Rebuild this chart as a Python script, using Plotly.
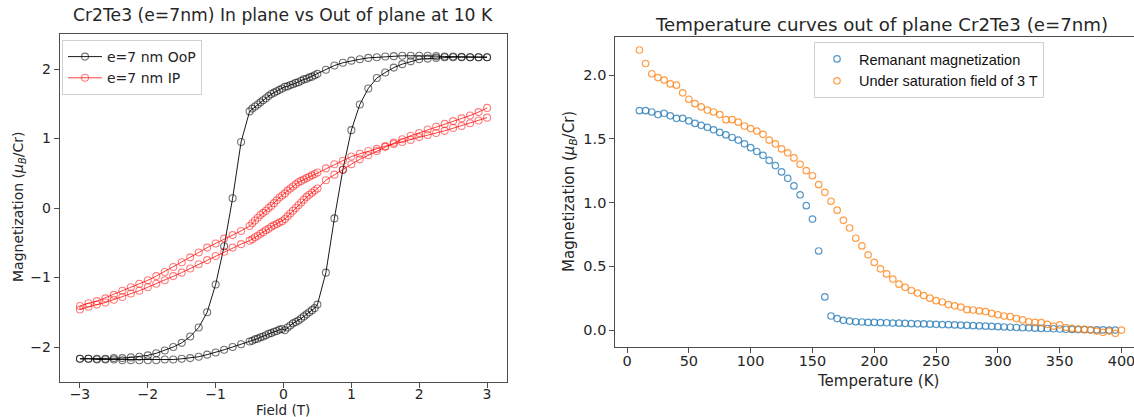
import plotly.graph_objects as go

# ---------------- Left panel: hysteresis loops at 10 K ----------------
field_down = [3.0, 2.875, 2.75, 2.625, 2.5, 2.375, 2.25, 2.125, 2.0, 1.875, 1.75, 1.625, 1.5, 1.375,
              1.25, 1.125, 1.0, 0.875, 0.75, 0.625, 0.5,
              0.46, 0.42, 0.38, 0.34, 0.3, 0.26, 0.22, 0.18, 0.14, 0.1, 0.06, 0.02,
              -0.02, -0.06, -0.1, -0.14, -0.18, -0.22, -0.26, -0.3, -0.34, -0.38, -0.42, -0.46,
              -0.5, -0.625, -0.75, -0.875, -1.0, -1.125, -1.25, -1.375, -1.5, -1.625, -1.75,
              -1.875, -2.0, -2.125, -2.25, -2.375, -2.5, -2.625, -2.75, -2.875, -3.0]
field_up = [-3.0, -2.875, -2.75, -2.625, -2.5, -2.375, -2.25, -2.125, -2.0, -1.875, -1.75, -1.625,
            -1.5, -1.375, -1.25, -1.125, -1.0, -0.875, -0.75, -0.625, -0.5,
            -0.46, -0.42, -0.38, -0.34, -0.3, -0.26, -0.22, -0.18, -0.14, -0.1, -0.06, -0.02,
            0.02, 0.06, 0.1, 0.14, 0.18, 0.22, 0.26, 0.3, 0.34, 0.38, 0.42, 0.46,
            0.5, 0.625, 0.75, 0.875, 1.0, 1.125, 1.25, 1.375, 1.5, 1.625, 1.75, 1.875, 2.0,
            2.125, 2.25, 2.375, 2.5, 2.625, 2.75, 2.875, 3.0]

m_oop_down = [2.17, 2.17, 2.17, 2.175, 2.18, 2.18, 2.185, 2.19, 2.19, 2.19, 2.19, 2.185, 2.18, 2.17,
              2.16, 2.14, 2.12, 2.09, 2.05, 1.99, 1.93,
              1.91, 1.89, 1.88, 1.86, 1.85, 1.83, 1.81, 1.80, 1.78, 1.77, 1.75, 1.745,
              1.72, 1.70, 1.68, 1.66, 1.64, 1.61, 1.58, 1.55, 1.52, 1.49, 1.46, 1.43,
              1.39, 0.95, 0.14, -0.55, -1.10, -1.50, -1.72, -1.85, -1.94, -2.00, -2.05,
              -2.09, -2.12, -2.14, -2.15, -2.16, -2.16, -2.17, -2.17, -2.17, -2.17]
m_oop_up = [-2.17, -2.17, -2.18, -2.18, -2.18, -2.19, -2.19, -2.19, -2.19, -2.19, -2.18, -2.18,
            -2.17, -2.16, -2.14, -2.11, -2.08, -2.04, -2.00, -1.96, -1.92,
            -1.91, -1.89, -1.88, -1.86, -1.85, -1.83, -1.81, -1.80, -1.78, -1.77, -1.75, -1.74,
            -1.76, -1.72, -1.69, -1.66, -1.64, -1.62, -1.59, -1.56, -1.53, -1.50, -1.47, -1.44,
            -1.39, -0.93, -0.15, 0.55, 1.12, 1.49, 1.72, 1.87, 1.95, 2.02, 2.07, 2.11, 2.14,
            2.15, 2.16, 2.17, 2.17, 2.17, 2.17, 2.17, 2.17]

m_ip_down = [1.30, 1.26, 1.22, 1.18, 1.15, 1.11, 1.08, 1.05, 1.02, 0.98, 0.95, 0.92, 0.89, 0.85,
             0.82, 0.78, 0.74, 0.68, 0.63, 0.57, 0.51,
             0.49, 0.47, 0.45, 0.43, 0.41, 0.39, 0.37, 0.34, 0.31, 0.28, 0.25, 0.21,
             0.18, 0.15, 0.11, 0.07, 0.03, 0.00, -0.04, -0.07, -0.10, -0.14, -0.18, -0.22,
             -0.26, -0.33, -0.39, -0.44, -0.51, -0.57, -0.64, -0.71, -0.78, -0.85, -0.92,
             -0.98, -1.04, -1.09, -1.14, -1.19, -1.25, -1.30, -1.34, -1.37, -1.41]
m_ip_up = [-1.46, -1.42, -1.39, -1.36, -1.32, -1.28, -1.23, -1.19, -1.14, -1.09, -1.04, -0.98,
           -0.93, -0.87, -0.81, -0.75, -0.69, -0.63, -0.57, -0.52, -0.47,
           -0.45, -0.42, -0.40, -0.37, -0.35, -0.32, -0.30, -0.27, -0.25, -0.23, -0.21, -0.19,
           -0.16, -0.12, -0.08, -0.04, 0.00, 0.04, 0.08, 0.12, 0.16, 0.19, 0.22, 0.25,
           0.28, 0.40, 0.48, 0.55, 0.63, 0.70, 0.76, 0.82, 0.88, 0.94, 0.99, 1.04, 1.08,
           1.13, 1.17, 1.21, 1.25, 1.29, 1.33, 1.38, 1.44]

# ---------------- Right panel: temperature curves ----------------
temp_rem = [10, 15, 20, 25, 30, 35, 40, 45, 50, 55, 60, 65, 70, 75, 80, 85, 90, 95, 100,
            105, 110, 115, 120, 125, 130, 135, 140, 145, 150, 155, 160, 165, 170, 175, 180,
            185, 190, 195, 200, 205, 210, 215, 220, 225, 230, 235, 240, 245, 250, 255, 260,
            265, 270, 275, 280, 285, 290, 295, 300, 305, 310, 315, 320, 325, 330, 335, 340,
            345, 350, 355, 360, 365, 370, 375, 380, 385, 390, 395]
m_rem = [1.72, 1.72, 1.71, 1.69, 1.70, 1.68, 1.66, 1.66, 1.64, 1.62, 1.605, 1.59, 1.57, 1.55,
         1.53, 1.51, 1.49, 1.46, 1.43, 1.40, 1.37, 1.33, 1.29, 1.24, 1.19, 1.13, 1.06, 0.975,
         0.87, 0.62, 0.26, 0.11, 0.09, 0.076, 0.07, 0.065, 0.063, 0.06, 0.06, 0.058, 0.057,
         0.055, 0.054, 0.052, 0.05, 0.049, 0.048, 0.046, 0.045, 0.043, 0.042, 0.04, 0.038,
         0.036, 0.034, 0.032, 0.03, 0.028, 0.026, 0.024, 0.022, 0.02, 0.018, 0.017, 0.015,
         0.013, 0.012, 0.01, 0.008, 0.006, 0.005, 0.004, 0.003, 0.002, 0.001, 0.001, 0.0, 0.0]

temp_sat = [10, 15, 20, 25, 30, 35, 40, 45, 50, 55, 60, 65, 70, 75, 80, 85, 90, 95, 100,
            105, 110, 115, 120, 125, 130, 135, 140, 145, 150, 155, 160, 165, 170, 175, 180,
            185, 190, 195, 200, 205, 210, 215, 220, 225, 230, 235, 240, 245, 250, 255, 260,
            265, 270, 275, 280, 285, 290, 295, 300, 305, 310, 315, 320, 325, 330, 335, 340,
            345, 350, 355, 360, 365, 370, 375, 380, 385, 390, 395, 400]
m_sat = [2.196, 2.09, 2.01, 1.98, 1.96, 1.93, 1.92, 1.86, 1.81, 1.775, 1.75, 1.725, 1.71, 1.69,
         1.65, 1.65, 1.63, 1.60, 1.58, 1.56, 1.535, 1.49, 1.46, 1.42, 1.39, 1.35, 1.30, 1.25,
         1.21, 1.14, 1.08, 1.01, 0.94, 0.86, 0.80, 0.72, 0.66, 0.59, 0.53, 0.48, 0.44, 0.40,
         0.36, 0.335, 0.31, 0.29, 0.27, 0.25, 0.23, 0.22, 0.20, 0.19, 0.18, 0.16, 0.157, 0.15,
         0.145, 0.13, 0.12, 0.11, 0.105, 0.09, 0.08, 0.065, 0.06, 0.058, 0.044, 0.03, 0.04,
         0.02, 0.013, 0.008, 0.005, 0.0, -0.008, -0.018, -0.008, -0.026, 0.0]

W, H = 1134, 417
FONT = "DejaVu Sans"
TXT = "#262626"
AX = "#4d4d4d"

fig = go.Figure()

fig.add_trace(go.Scatter(
    x=field_down + field_up, y=m_oop_down + m_oop_up, mode="lines+markers", name="e=7 nm OoP",
    line=dict(color="rgba(0,0,0,0.9)", width=1),
    marker=dict(symbol="circle-open", size=7, color="rgba(0,0,0,0.55)", line=dict(width=1.1)),
    xaxis="x", yaxis="y", legend="legend"))
fig.add_trace(go.Scatter(
    x=field_down + field_up, y=m_ip_down + m_ip_up, mode="lines+markers", name="e=7 nm IP",
    line=dict(color="rgba(255,0,0,0.75)", width=1),
    marker=dict(symbol="circle-open", size=7, color="rgba(255,0,0,0.5)", line=dict(width=1.1)),
    xaxis="x", yaxis="y", legend="legend"))

fig.add_trace(go.Scatter(
    x=temp_rem, y=m_rem, mode="markers", name="Remanant magnetization",
    marker=dict(symbol="circle-open", size=6.5, color="rgba(31,119,180,0.75)", line=dict(width=1.2)),
    xaxis="x2", yaxis="y2", legend="legend2"))
fig.add_trace(go.Scatter(
    x=temp_sat, y=m_sat, mode="markers", name="Under saturation field of 3 T",
    marker=dict(symbol="circle-open", size=6.5, color="rgba(255,127,14,0.75)", line=dict(width=1.2)),
    xaxis="x2", yaxis="y2", legend="legend2"))


def axis_style(size):
    return dict(showgrid=False, zeroline=False, showline=True, linecolor=AX, linewidth=1,
                ticks="outside", ticklen=5, tickwidth=1, tickcolor=AX,
                tickfont=dict(family=FONT, size=size, color=TXT))


x1 = (59.6 / W, 507.4 / W)
y1 = (1 - 381.75 / H, 1 - 34.25 / H)
x2 = (615.3 / W, 1.0)
y2 = (1 - 347 / H, 1 - 37 / H)

fig.update_layout(
    width=W, height=H, margin=dict(l=0, r=0, t=0, b=0),
    paper_bgcolor="white", plot_bgcolor="white",
    xaxis=dict(domain=list(x1), range=[-3.3, 3.3], tickvals=[-3, -2, -1, 0, 1, 2, 3],
               mirror=True, anchor="y", ticklabelstandoff=-6, **axis_style(14)),
    yaxis=dict(domain=list(y1), range=[-2.5, 2.5], tickvals=[-2, -1, 0, 1, 2],
               mirror=True, anchor="x", **axis_style(14)),
    xaxis2=dict(domain=list(x2), range=[-9.5, 410.1], tickvals=[0, 50, 100, 150, 200, 250, 300, 350, 400],
                mirror=True, anchor="y2", ticklabelstandoff=-4, ticklabeloverflow="allow",
                **axis_style(14.5)),
    yaxis2=dict(domain=list(y2), range=[-0.133, 2.298], tickvals=[0, 0.5, 1.0, 1.5, 2.0],
                tickformat=".1f", mirror=False, anchor="x2", **axis_style(14.5)),
    legend=dict(x=62 / W, y=1 - 40 / H, xanchor="left", yanchor="top",
                bgcolor="rgba(255,255,255,0.8)", bordercolor="#d0d0d0", borderwidth=1,
                font=dict(family=FONT, size=14, color=TXT), itemwidth=34, tracegroupgap=0),
    legend2=dict(x=814 / W, y=1 - 42 / H, xanchor="left", yanchor="top",
                 bgcolor="rgba(255,255,255,0.8)", bordercolor="#d0d0d0", borderwidth=1,
                 font=dict(family="Liberation Sans", size=14.5, color="#111"), itemwidth=34),
    showlegend=True,
)

annots = [
    dict(text="Cr2Te3 (e=7nm) In plane vs Out of plane at 10 K", x=283 / W, y=1 - 15 / H,
         font=dict(family=FONT, size=17.2, color=TXT)),
    dict(text="Temperature curves out of plane Cr2Te3 (e=7nm)", x=881 / W, y=1 - 25 / H,
         font=dict(family=FONT, size=18.2, color=TXT)),
    dict(text="Field (T)", x=283 / W, y=1 - 410 / H, font=dict(family=FONT, size=13.5, color=TXT),
         borderpad=0),
    dict(text="Temperature (K)", x=878 / W, y=1 - 381 / H, font=dict(family=FONT, size=15, color=TXT)),
    dict(text="Magnetization (<i>μ</i><sub><i>B</i></sub>/Cr)", x=19 / W, y=1 - 207 / H,
         textangle=-90, font=dict(family=FONT, size=14, color=TXT)),
    dict(text="Magnetization (<i>μ</i><sub><i>B</i></sub>/Cr)", x=569 / W, y=1 - 192 / H,
         textangle=-90, font=dict(family=FONT, size=15, color=TXT)),
]
for a in annots:
    a.update(xref="paper", yref="paper", showarrow=False, xanchor="center", yanchor="middle")
fig.update_layout(annotations=annots)

# the page body has a default 8px margin; remove it so the figure fills the window
fig.write_html("out.html", config={"displayModeBar": False},
               post_script="document.body.style.margin='0px';")
